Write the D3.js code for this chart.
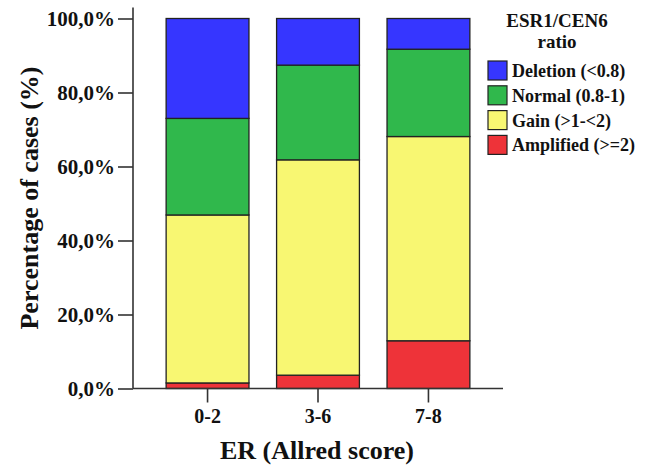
<!DOCTYPE html>
<html>
<head>
<meta charset="utf-8">
<script src="https://cdn.jsdelivr.net/npm/d3@7/dist/d3.min.js"></script>
</head>
<body style="margin:0;background:#fff">
<svg id="chart" width="650" height="465" style="display:block"></svg>
<script>
// ER score groups and stacked percentages of ESR1/CEN6 ratio classes
const categories = ["0-2", "3-6", "7-8"];
const seriesNames = ["Amplified (>=2)", "Gain (>1-<2)", "Normal (0.8-1)", "Deletion (<0.8)"];
const seriesKeys = ["amplified", "gain", "normal", "deletion"];
const amplified = [1.5, 3.6, 12.9];
const gain = [45.4, 58.2, 55.2];
const normal = [26.1, 25.6, 23.6];
const deletion = [27.0, 12.6, 8.3];
const yTicks = [0, 20, 40, 60, 80, 100];
const seriesColors = ["#ee3339", "#f8f772", "#30b84c", "#3636ff"];

const SERIF = '"Liberation Serif", "Times New Roman", serif';

const rows = categories.map((c, i) => ({
  cat: c,
  amplified: amplified[i],
  gain: gain[i],
  normal: normal[i],
  deletion: deletion[i]
}));

const svg = d3.select("#chart");
const axisX = 133, axisRight = 503;
const y = d3.scaleLinear().domain([0, 100]).range([388.5, 18.5]);
const x = d3.scaleBand().domain(categories).range([axisX, axisRight])
  .paddingInner(0.25).paddingOuter(0.3);
const color = d3.scaleOrdinal().domain(seriesKeys).range(seriesColors);

const stacked = d3.stack().keys(seriesKeys)(rows);

// stacked bars
svg.append("g").selectAll("g").data(stacked).join("g")
  .attr("fill", d => color(d.key))
  .selectAll("rect").data(d => d).join("rect")
  .attr("x", d => x(d.data.cat))
  .attr("width", x.bandwidth())
  .attr("y", d => y(d[1]))
  .attr("height", d => y(d[0]) - y(d[1]))
  .attr("stroke", "#222")
  .attr("stroke-width", 1.3);

// y axis with comma decimal percentages
const locale = d3.formatLocale({ decimal: ",", thousands: ".", grouping: [3], currency: ["", "%"] });
const fmt = v => locale.format(".1f")(v) + "%";
const yAxis = svg.append("g").attr("transform", `translate(${axisX},0)`)
  .call(d3.axisLeft(y).tickValues(yTicks).tickSize(15).tickPadding(3).tickFormat(fmt));
yAxis.select(".domain").remove();
yAxis.selectAll(".tick line").attr("stroke", "#333").attr("stroke-width", 1.6);
yAxis.selectAll(".tick text")
  .style("font-family", SERIF)
  .attr("font-weight", "bold").attr("font-size", 21).attr("fill", "#111")
  .attr("dy", "0.32em");
svg.append("line")
  .attr("x1", axisX).attr("x2", axisX)
  .attr("y1", y(100) - 11).attr("y2", y(0))
  .attr("stroke", "#333").attr("stroke-width", 1.6);

// x axis
const xAxis = svg.append("g").attr("transform", `translate(0,${y(0)})`)
  .call(d3.axisBottom(x).tickSize(14).tickPadding(6));
xAxis.select(".domain").remove();
xAxis.selectAll(".tick line").attr("stroke", "#333").attr("stroke-width", 1.6);
xAxis.selectAll(".tick text")
  .style("font-family", SERIF)
  .attr("font-weight", "bold").attr("font-size", 20).attr("fill", "#111");
svg.append("line")
  .attr("x1", axisX).attr("x2", axisRight)
  .attr("y1", y(0)).attr("y2", y(0))
  .attr("stroke", "#333").attr("stroke-width", 1.6);

// axis titles
svg.append("text")
  .style("font-family", SERIF)
  .attr("x", (axisX + axisRight) / 2 - 1).attr("y", 459)
  .attr("text-anchor", "middle").attr("fill", "#111")
  .attr("font-size", 26).attr("font-weight", "bold")
  .text("ER (Allred score)");
svg.append("text")
  .style("font-family", SERIF)
  .attr("transform", "translate(38,198) rotate(-90)")
  .attr("text-anchor", "middle").attr("fill", "#111")
  .attr("font-size", 26).attr("font-weight", "bold")
  .text("Percentage of cases (%)");

// legend
const legend = svg.append("g");
legend.append("text").style("font-family", SERIF)
  .attr("x", 557).attr("y", 27).attr("text-anchor", "middle").attr("fill", "#111")
  .attr("font-size", 19).attr("font-weight", "bold").text("ESR1/CEN6");
legend.append("text").style("font-family", SERIF)
  .attr("x", 557).attr("y", 48).attr("text-anchor", "middle").attr("fill", "#111")
  .attr("font-size", 19).attr("font-weight", "bold").text("ratio");
const order = [3, 2, 1, 0];
const items = legend.selectAll("g.item").data(order).join("g")
  .attr("class", "item")
  .attr("transform", (d, i) => `translate(488,${61 + i * 24.8})`);
items.append("rect")
  .attr("width", 19).attr("height", 19)
  .attr("fill", d => color(seriesKeys[d]))
  .attr("stroke", "#222").attr("stroke-width", 1.2);
items.append("text")
  .style("font-family", SERIF)
  .attr("x", 24).attr("y", 16).attr("fill", "#111")
  .attr("font-size", 18).attr("font-weight", "bold")
  .text(d => seriesNames[d]);
</script>
</body>
</html>
